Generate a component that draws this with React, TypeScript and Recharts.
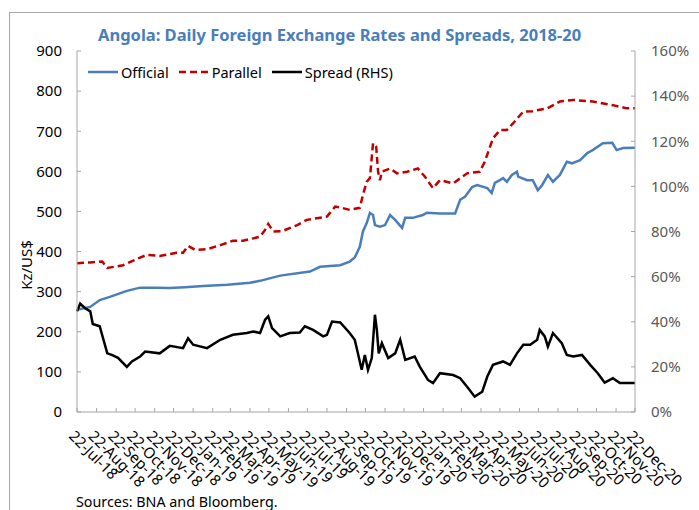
import { ComposedChart, Legend, Line, XAxis, YAxis } from 'recharts'

// Kz per US$ (date, value)
const official: [string, number][] = [
  ['2018-07-22', 255], ['2018-08-12', 262], ['2018-08-27', 279], ['2018-09-12', 287],
  ['2018-10-09', 302], ['2018-10-30', 310], ['2018-11-23', 310], ['2018-12-16', 309],
  ['2019-01-09', 311], ['2019-02-07', 314], ['2019-03-17', 317], ['2019-04-22', 322],
  ['2019-05-08', 327], ['2019-06-09', 340], ['2019-07-26', 350], ['2019-08-11', 362],
  ['2019-09-12', 366], ['2019-09-27', 375], ['2019-10-05', 385], ['2019-10-13', 412],
  ['2019-10-18', 450], ['2019-10-24', 471], ['2019-10-29', 496], ['2019-11-03', 491],
  ['2019-11-06', 466], ['2019-11-14', 462], ['2019-11-22', 466], ['2019-11-30', 491],
  ['2019-12-08', 479], ['2019-12-19', 459], ['2019-12-24', 484], ['2020-01-05', 484],
  ['2020-01-21', 491], ['2020-01-27', 497], ['2020-02-17', 495], ['2020-03-12', 495],
  ['2020-03-20', 529], ['2020-03-28', 537], ['2020-04-08', 561], ['2020-04-16', 566],
  ['2020-05-02', 558], ['2020-05-09', 546], ['2020-05-14', 571], ['2020-05-22', 578],
  ['2020-05-27', 583], ['2020-06-02', 574], ['2020-06-10', 591], ['2020-06-18', 599],
  ['2020-06-20', 587], ['2020-07-04', 578], ['2020-07-13', 578], ['2020-07-21', 553],
  ['2020-07-28', 566], ['2020-08-06', 591], ['2020-08-14', 574], ['2020-08-25', 591],
  ['2020-09-05', 624], ['2020-09-13', 620], ['2020-09-26', 628], ['2020-10-07', 645],
  ['2020-10-16', 653], ['2020-11-01', 670], ['2020-11-16', 671], ['2020-11-23', 653],
  ['2020-12-03', 658], ['2020-12-22', 659],
]

const parallel: [string, number][] = [
  ['2018-07-22', 371], ['2018-08-12', 373], ['2018-08-31', 375], ['2018-09-08', 359],
  ['2018-10-03', 366], ['2018-10-30', 385], ['2018-11-10', 392], ['2018-11-30', 389],
  ['2018-12-27', 397], ['2019-01-06', 397], ['2019-01-14', 414], ['2019-01-25', 404],
  ['2019-02-13', 406], ['2019-03-06', 416], ['2019-03-26', 427], ['2019-04-11', 427],
  ['2019-05-08', 437], ['2019-05-16', 454], ['2019-05-21', 469], ['2019-05-29', 450],
  ['2019-06-12', 451], ['2019-07-06', 466], ['2019-07-21', 479], ['2019-08-22', 487],
  ['2019-09-04', 512], ['2019-09-12', 510], ['2019-09-27', 504], ['2019-10-13', 509],
  ['2019-10-18', 541], ['2019-10-24', 574], ['2019-10-29', 583], ['2019-11-03', 670],
  ['2019-11-08', 661], ['2019-11-11', 599], ['2019-11-14', 578], ['2019-11-17', 599],
  ['2019-11-30', 607], ['2019-12-11', 595], ['2019-12-27', 599], ['2020-01-13', 607],
  ['2020-01-24', 587], ['2020-02-06', 558], ['2020-02-17', 578], ['2020-03-09', 570],
  ['2020-03-31', 595], ['2020-04-20', 599], ['2020-04-28', 624], ['2020-05-11', 682],
  ['2020-05-22', 703], ['2020-06-02', 703], ['2020-06-12', 720], ['2020-06-28', 749],
  ['2020-07-13', 750], ['2020-08-05', 757], ['2020-08-25', 774], ['2020-09-15', 778],
  ['2020-10-16', 774], ['2020-11-17', 765], ['2020-12-09', 757], ['2020-12-22', 757],
]

// spread in percent (right axis)
const spread: [string, number][] = [
  ['2018-07-22', 44.6], ['2018-07-27', 48], ['2018-08-04', 46], ['2018-08-12', 44.6],
  ['2018-08-16', 39], ['2018-08-27', 38], ['2018-09-01', 33], ['2018-09-08', 26],
  ['2018-09-15', 25.3], ['2018-09-25', 24], ['2018-10-09', 20], ['2018-10-17', 22.4],
  ['2018-10-30', 24.6], ['2018-11-07', 26.8], ['2018-11-30', 26], ['2018-12-16', 29.3],
  ['2019-01-06', 28.3], ['2019-01-14', 32.7], ['2019-01-22', 29.8], ['2019-02-13', 28.3],
  ['2019-03-06', 32], ['2019-03-26', 34.2], ['2019-04-17', 35], ['2019-04-27', 35.7],
  ['2019-05-08', 35], ['2019-05-16', 40.9], ['2019-05-21', 42.4], ['2019-05-27', 37.2],
  ['2019-06-09', 33.5], ['2019-06-24', 35], ['2019-07-10', 35.2], ['2019-07-18', 38],
  ['2019-07-31', 36.4], ['2019-08-16', 33.5], ['2019-08-22', 34.2], ['2019-08-30', 40.1],
  ['2019-09-12', 39.7], ['2019-09-27', 35], ['2019-10-05', 32], ['2019-10-10', 26],
  ['2019-10-16', 18.7], ['2019-10-21', 25.3], ['2019-10-26', 18.7], ['2019-11-01', 23.9],
  ['2019-11-06', 43.1], ['2019-11-09', 36.4], ['2019-11-12', 26], ['2019-11-17', 30.5],
  ['2019-11-27', 23.9], ['2019-12-08', 26], ['2019-12-16', 32], ['2019-12-24', 23.1],
  ['2020-01-08', 24.6], ['2020-01-16', 20.1], ['2020-01-29', 14.2], ['2020-02-06', 12.8],
  ['2020-02-17', 17.2], ['2020-03-09', 16.4], ['2020-03-20', 15], ['2020-03-31', 11.2],
  ['2020-04-12', 6.8], ['2020-04-24', 9], ['2020-05-02', 15.7], ['2020-05-11', 20.9],
  ['2020-05-27', 22.4], ['2020-06-07', 20.9], ['2020-06-18', 26], ['2020-06-28', 29.8],
  ['2020-07-09', 29.8], ['2020-07-20', 32], ['2020-07-24', 36.4], ['2020-08-01', 33.5],
  ['2020-08-06', 29], ['2020-08-14', 35], ['2020-08-28', 30.5], ['2020-09-05', 25.3],
  ['2020-09-15', 24.6], ['2020-09-29', 25.3], ['2020-10-12', 20.9], ['2020-10-24', 17.2],
  ['2020-11-04', 13], ['2020-11-17', 15], ['2020-11-28', 12.8], ['2020-12-22', 12.8],
]

const tickDates = [
  '2018-07-22', '2018-08-22', '2018-09-22', '2018-10-22', '2018-11-22', '2018-12-22',
  '2019-01-22', '2019-02-22', '2019-03-22', '2019-04-22', '2019-05-22', '2019-06-22',
  '2019-07-22', '2019-08-22', '2019-09-22', '2019-10-22', '2019-11-22', '2019-12-22',
  '2020-01-22', '2020-02-22', '2020-03-22', '2020-04-22', '2020-05-22', '2020-06-22',
  '2020-07-22', '2020-08-22', '2020-09-22', '2020-10-22', '2020-11-22', '2020-12-22',
]
const leftTicks = [0, 100, 200, 300, 400, 500, 600, 700, 800, 900]
const rightTicks = [0, 20, 40, 60, 80, 100, 120, 140, 160]
const MONTHS = ['Jan', 'Feb', 'Mar', 'Apr', 'May', 'Jun', 'Jul', 'Aug', 'Sep', 'Oct', 'Nov', 'Dec']

const FONT = "'Noto Sans', 'Open Sans', sans-serif"
const AXIS_GREY = '#A6A6A6'
const BLUE = '#4A7EBB'
const RED = '#C00000'

const toTime = (s: string) => {
  const [y, m, d] = s.split('-').map(Number)
  return Date.UTC(y, m - 1, d)
}

const fmtDate = (t: number) => {
  const d = new Date(t)
  return `${d.getUTCDate()}-${MONTHS[d.getUTCMonth()]}-${String(d.getUTCFullYear()).slice(2)}`
}

type Row = { t: number; official?: number; parallel?: number; spread?: number }

function buildRows(): Row[] {
  const rows = new Map<number, Row>()
  const add = (series: [string, number][], key: 'official' | 'parallel' | 'spread') => {
    for (const [d, v] of series) {
      const t = toTime(d)
      const r = rows.get(t) ?? { t }
      r[key] = v
      rows.set(t, r)
    }
  }
  add(official, 'official')
  add(parallel, 'parallel')
  add(spread, 'spread')
  return [...rows.values()].sort((a, b) => a.t - b.t)
}

const data = buildRows()
const tickTimes = tickDates.map(toTime)
const xDomain = [tickTimes[0], tickTimes[tickTimes.length - 1]]

const legendStyles: Record<string, { color: string; dash?: string }> = {
  official: { color: BLUE },
  parallel: { color: RED, dash: '7 4' },
  spread: { color: '#000' },
}

function DateTick(props: any) {
  const { x, y, payload } = props
  const tx = x - 9
  const ty = y + 25
  return (
    <text x={tx} y={ty} transform={`rotate(45 ${tx} ${ty})`} fontSize={15} fontFamily={FONT} fill="#000" textAnchor="start">
      {fmtDate(payload.value)}
    </text>
  )
}

function LegendContent(props: any) {
  const items = props.payload ?? []
  return (
    <div style={{ display: 'flex', alignItems: 'center', fontFamily: FONT, fontSize: 14.5, color: '#000', whiteSpace: 'nowrap' }}>
      {items.map((it: any) => {
        const st = legendStyles[it.dataKey] ?? { color: it.color }
        return (
          <div key={it.dataKey} style={{ display: 'flex', alignItems: 'center', marginRight: 10 }}>
            <svg width={30} height={10} style={{ marginRight: 3 }}>
              <line x1={0} y1={5} x2={30} y2={5} stroke={st.color} strokeWidth={2.5} strokeDasharray={st.dash} />
            </svg>
            <span>{it.value}</span>
          </div>
        )
      })}
    </div>
  )
}

export default function App() {
  return (
    <div style={{ position: 'absolute', left: 0, top: 0, width: 699, height: 510, overflow: 'hidden', background: '#fff', fontFamily: FONT }}>
      <div style={{ position: 'absolute', left: 9, top: 12, width: 700, height: 520, borderTop: `1px solid ${AXIS_GREY}`, borderLeft: `1px solid ${AXIS_GREY}` }} />
      <div style={{ position: 'absolute', left: 98, top: 23, fontSize: 16.5, fontWeight: 700, color: BLUE, whiteSpace: 'nowrap' }}>
        Angola: Daily Foreign Exchange Rates and Spreads, 2018-20
      </div>
      <div style={{ position: 'absolute', left: 26, top: 265, transform: 'translate(-50%, -50%) rotate(-90deg)', fontSize: 15, color: '#000', whiteSpace: 'nowrap' }}>
        Kz/US$
      </div>
      <div style={{ position: 'absolute', left: 76, top: 492, fontSize: 14.3, color: '#000', whiteSpace: 'nowrap' }}>
        Sources: BNA and Bloomberg.
      </div>
      <div style={{ position: 'absolute', left: 0, top: 0 }}>
        <ComposedChart width={699} height={510} data={data} margin={{ top: 51, right: 14, bottom: 38, left: 37 }}>
          <XAxis
            dataKey="t"
            type="number"
            domain={xDomain}
            ticks={tickTimes}
            interval={0}
            tick={<DateTick />}
            tickSize={-4}
            tickMargin={4}
            height={60}
            stroke={AXIS_GREY}
          />
          <XAxis xAxisId="top" dataKey="t" type="number" domain={xDomain} orientation="top" height={0} tick={false} tickLine={false} stroke={AXIS_GREY} />
          <YAxis
            yAxisId="left"
            domain={[0, 900]}
            ticks={leftTicks}
            interval={0}
            width={40}
            tickSize={-4}
            tickMargin={19}
            stroke={AXIS_GREY}
            tick={{ fill: '#000', fontSize: 15, fontFamily: FONT }}
          />
          <YAxis
            yAxisId="right"
            orientation="right"
            domain={[0, 160]}
            ticks={rightTicks}
            interval={0}
            width={50}
            tickSize={-4}
            tickMargin={20}
            stroke={AXIS_GREY}
            tickFormatter={(v: number) => `${v}%`}
            tick={{ fill: '#595959', fontSize: 15, fontFamily: FONT, textAnchor: 'start' }}
          />
          <Legend
            layout="horizontal"
            verticalAlign="middle"
            align="center"
            wrapperStyle={{ top: 62, left: 88, width: 'auto' }}
            content={<LegendContent />}
          />
          <Line yAxisId="left" type="linear" dataKey="official" name="Official" stroke={BLUE} strokeWidth={2.5} dot={false} connectNulls isAnimationActive={false} />
          <Line yAxisId="left" type="linear" dataKey="parallel" name="Parallel" stroke={RED} strokeWidth={2.5} strokeDasharray="7 4" dot={false} connectNulls isAnimationActive={false} />
          <Line yAxisId="right" type="linear" dataKey="spread" name="Spread (RHS)" stroke="#000" strokeWidth={2.5} dot={false} connectNulls isAnimationActive={false} />
        </ComposedChart>
      </div>
    </div>
  )
}
